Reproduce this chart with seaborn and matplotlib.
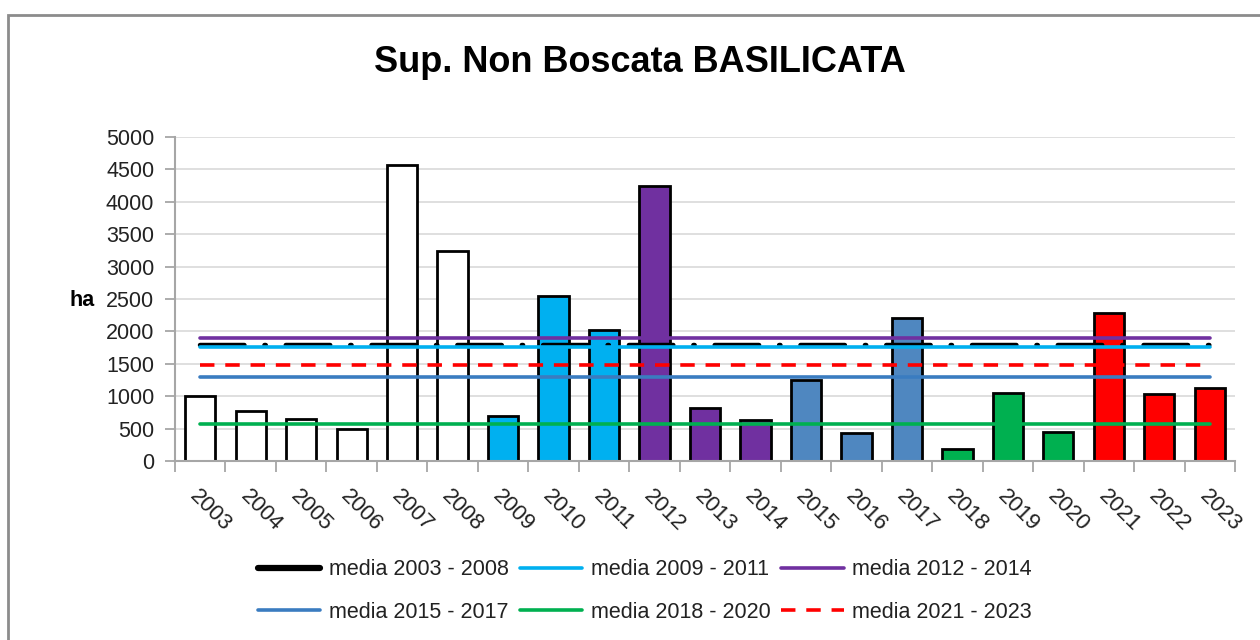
import matplotlib
matplotlib.use("Agg")
import matplotlib.pyplot as plt
from matplotlib.lines import Line2D
from matplotlib.patches import Rectangle
import seaborn as sns
import pandas as pd

# ---- data ----
years = [str(y) for y in range(2003, 2024)]
values = [1005, 770, 645, 495, 4570, 3245, 695, 2550, 2025, 4245, 820, 633,
          1250, 432, 2206, 188, 1056, 455, 2290, 1036, 1132]
bar_colors = (["#FFFFFF"] * 6 + ["#00B0F0"] * 3 + ["#7030A0"] * 3 +
              ["#4F87C0"] * 3 + ["#00B050"] * 3 + ["#FF0000"] * 3)
mean_labels = ["media 2003 - 2008", "media 2009 - 2011", "media 2012 - 2014",
               "media 2015 - 2017", "media 2018 - 2020", "media 2021 - 2023"]
mean_values = [1790, 1762, 1900, 1297, 578, 1486]
mean_colors = ["#000000", "#00B0F0", "#7030A0", "#3A7CC0", "#00B050", "#FF0000"]
yticks = [0, 500, 1000, 1500, 2000, 2500, 3000, 3500, 4000, 4500, 5000]

df = pd.DataFrame({"anno": years, "ha": values})

sns.set_theme(style="white")
plt.rcParams["font.family"] = ["Liberation Sans", "DejaVu Sans"]

fig = plt.figure(figsize=(12.6, 6.4), dpi=100)
ax = fig.add_axes([175 / 1260, 1 - 461 / 640, (1235 - 175) / 1260, (461 - 137) / 640])

sns.barplot(data=df, x="anno", y="ha", hue="anno", palette=bar_colors,
            legend=False, width=0.6, edgecolor="black", linewidth=2.0,
            saturation=1, ax=ax, zorder=2)

# mean lines, from first to last category
x0, x1 = 0, len(years) - 1
handles = []
for i, (lab, m, c) in enumerate(zip(mean_labels, mean_values, mean_colors)):
    if i == 0:
        ax.plot([x0, x1], [m, m], color=c, lw=3.2, solid_capstyle="round",
                dash_capstyle="round", dashes=(10, 4.5, 0.3, 4.5), zorder=3)
        handles.append(Line2D([], [], color=c, lw=4.5, solid_capstyle="round"))
    elif i == 5:
        ax.plot([x0, x1], [m, m], color=c, lw=2.6, dashes=(4, 3), zorder=3)
        handles.append(Line2D([], [], color=c, lw=2.6, dashes=(4, 3)))
    else:
        ax.plot([x0, x1], [m, m], color=c, lw=2.6, solid_capstyle="round", zorder=3)
        handles.append(Line2D([], [], color=c, lw=2.6))

ax.set_ylim(0, 5000)
ax.set_xlim(-0.5, len(years) - 0.5)
ax.set_yticks(yticks)
ax.set_yticklabels([str(t) for t in yticks], fontsize=15.5, color="#222222")
ax.yaxis.grid(True, color="#D9D9D9", lw=1.2, zorder=0)
ax.set_axisbelow(True)

for s in ["top", "right"]:
    ax.spines[s].set_visible(False)
for s in ["left", "bottom"]:
    ax.spines[s].set_color("#A6A6A6")
    ax.spines[s].set_linewidth(1.5)

ax.tick_params(axis="y", which="major", direction="out", length=7, width=1.3,
               color="#A6A6A6", pad=8, left=True)
# x ticks at category boundaries
ax.set_xticks([i + 0.5 for i in range(-1, len(years))], minor=False)
ax.set_xticklabels([""] * (len(years) + 1))
ax.tick_params(axis="x", which="major", direction="out", length=8, width=1.3,
               color="#A6A6A6", bottom=True)
ax.set_xticks(range(len(years)), minor=True)
ax.set_xticklabels(years, minor=True, rotation=-45, ha="left", va="top",
                   rotation_mode="anchor", fontsize=16, color="#222222")
ax.tick_params(axis="x", which="minor", length=0, pad=18)
ax.set_xlabel("")
ax.set_ylabel("")

fig.text(82 / 1260, 1 - 300 / 640, "ha", fontsize=15.5, fontweight="bold",
         ha="center", va="center", color="black")
fig.text(640 / 1260, 1 - 63 / 640, "Sup. Non Boscata BASILICATA", fontsize=26,
         fontweight="bold", ha="center", va="center", color="black")

order = [0, 3, 1, 4, 2, 5]
fig.legend([handles[i] for i in order], [mean_labels[i] for i in order],
           ncol=3, loc="center", bbox_to_anchor=(645 / 1260, 1 - 591 / 640),
           frameon=False, fontsize=15.5, handlelength=2.9, handletextpad=0.4,
           columnspacing=0.5, labelspacing=1.0, labelcolor="#222222")

fig.patches.append(Rectangle((8 / 1260, -0.1), 1.2, 1 - 15 / 640 + 0.1,
                             transform=fig.transFigure, fill=False,
                             edgecolor="#8C8C8C", lw=2, zorder=0))

fig.savefig("out.png", dpi=100)
